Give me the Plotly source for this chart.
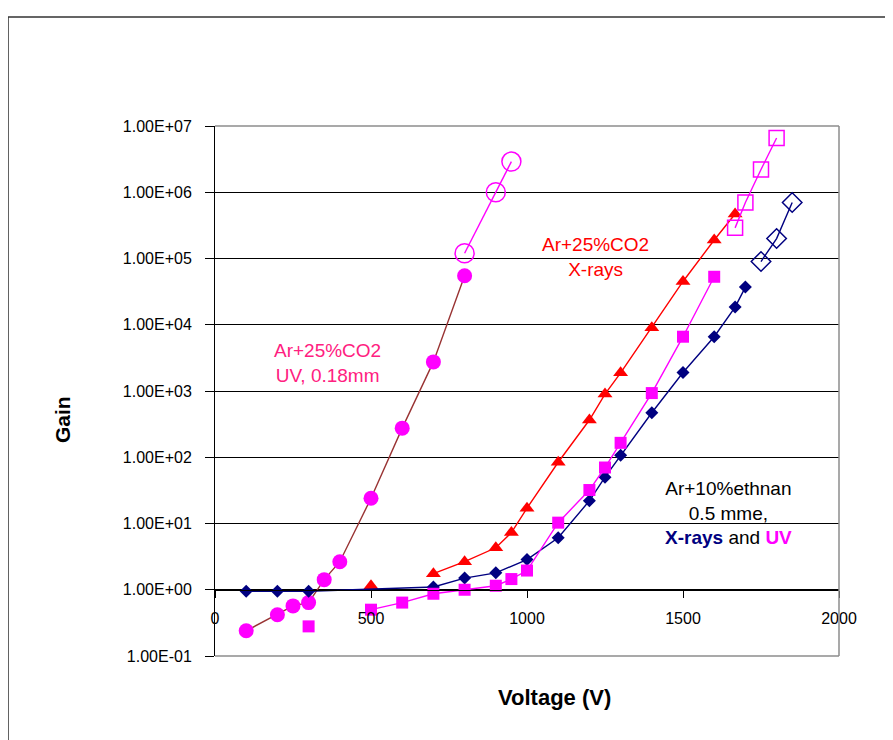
import plotly.graph_objects as go

# ---- data ----
xr_x = [100, 200, 300, 700, 800, 900, 1000, 1100, 1200, 1250, 1300, 1400, 1500, 1600, 1667, 1700]
xr_y = [0.95, 0.95, 0.95, 1.1, 1.5, 1.8, 2.85, 6.1, 22, 50, 107, 470, 1900, 6600, 18500, 37000]
xr_open_x = [1750, 1800, 1850]
xr_open_y = [9.0e4, 2.0e5, 7.0e5]

uv_x = [500, 600, 700, 800, 900, 950, 1000, 1100, 1200, 1250, 1300, 1400, 1500, 1600]
uv_y = [0.5, 0.64, 0.87, 1.0, 1.15, 1.45, 1.95, 10.3, 32, 70, 165, 930, 6600, 53000]
uv_iso_x = [300]
uv_iso_y = [0.28]
uv_open_x = [1667, 1700, 1750, 1800]
uv_open_y = [2.9e5, 7.0e5, 2.2e6, 6.6e6]

co2x_iso_x = [500]
co2x_iso_y = [1.15]
co2x_x = [700, 800, 900, 950, 1000, 1100, 1200, 1250, 1300, 1400, 1500, 1600, 1667]
co2x_y = [1.75, 2.65, 4.3, 7.3, 17, 84, 365, 900, 1880, 9000, 45000, 190000, 470000]

co2uv_x = [100, 200, 250, 300, 350, 400, 500, 600, 700, 800]
co2uv_y = [0.24, 0.42, 0.57, 0.64, 1.42, 2.65, 24, 275, 2750, 55000]
co2uv_open_x = [800, 900, 950]
co2uv_open_y = [1.2e5, 1.0e6, 2.9e6]

y_tickvals = [1e-1, 1e0, 1e1, 1e2, 1e3, 1e4, 1e5, 1e6, 1e7]
y_ticktext = ["1.00E-01", "1.00E+00", "1.00E+01", "1.00E+02", "1.00E+03",
              "1.00E+04", "1.00E+05", "1.00E+06", "1.00E+07"]
x_tickvals = [0, 500, 1000, 1500, 2000]

NAVY = "#000080"
MAG = "#FF00FF"
RED = "#FF0000"
BROWN = "#993333"
PINK = "#FF2080"

fig = go.Figure()

def add(x, y, mode, color, symbol, size, linecolor=None, mlw=1.5):
    fig.add_trace(go.Scatter(
        x=x, y=y, mode=mode,
        line=dict(color=linecolor or color, width=1.4),
        marker=dict(symbol=symbol, size=size, color=color,
                    line=dict(color=color, width=mlw)),
        showlegend=False, cliponaxis=False))

add(co2uv_x, co2uv_y, "lines+markers", MAG, "circle", 15, BROWN, 0)
add(co2uv_open_x, co2uv_open_y, "lines+markers", MAG, "circle-open", 19, MAG)
add(co2x_x, co2x_y, "lines+markers", RED, "triangle-up", 13, RED, 0)
add(co2x_iso_x, co2x_iso_y, "markers", RED, "triangle-up", 13, RED, 0)
add(xr_x, xr_y, "lines+markers", NAVY, "diamond", 10, NAVY, 0)
add(xr_open_x, xr_open_y, "lines+markers", NAVY, "diamond-open", 15, NAVY)
add(uv_x, uv_y, "lines+markers", MAG, "square", 12, MAG, 0)
add(uv_iso_x, uv_iso_y, "markers", MAG, "square", 12, MAG, 0)
add(uv_open_x, uv_open_y, "lines+markers", MAG, "square-open", 15, MAG)

FONT = "Liberation Sans, Arial, sans-serif"

# page body has an 8px margin, so margins are offset by 8px
fig.update_layout(
    width=893, height=740, autosize=False,
    margin=dict(l=207, r=62, t=118, b=92, pad=0),
    paper_bgcolor="white", plot_bgcolor="white",
    font=dict(family=FONT, color="black"),
    xaxis=dict(
        range=[0, 2000], tickvals=x_tickvals, ticks="outside", ticklen=7,
        tickcolor="black", showline=True, linecolor="black", linewidth=1,
        showgrid=False, zeroline=False, anchor="free", position=0.125,
        tickfont=dict(size=16, family=FONT, color="black"),
        ticklabelstandoff=7),
    yaxis=dict(
        type="log", range=[-1, 7], tickvals=y_tickvals, ticktext=y_ticktext,
        ticks="outside", ticklen=9, tickcolor="black", showline=True,
        linecolor="black", linewidth=1, showgrid=True, gridcolor="black",
        gridwidth=1, zeroline=False,
        tickfont=dict(size=16, family=FONT, color="black"),
        ticklabelstandoff=10),
)

# plot area border (top, right, bottom) in gray, and outer chart border
for x0, y0, x1, y1 in [(0, 1, 1, 1), (1, 0, 1, 1), (0, 0, 1, 0)]:
    fig.add_shape(type="line", xref="paper", yref="paper", x0=x0, y0=y0, x1=x1, y1=y1,
                  line=dict(color="#8c8c8c", width=1.5), layer="above")
fig.add_shape(type="rect", xref="paper", yref="paper", x0=-0.3317, y0=-1, x1=2, y1=1.2057,
              line=dict(color="#333333", width=1.5), layer="below")

def ann(text, xp, yp, color, size=19, angle=0):
    fig.add_annotation(text=text, xref="paper", yref="paper",
                       x=(xp - 215) / 624, y=(656 - yp) / 530,
                       showarrow=False, align="center", textangle=angle,
                       font=dict(size=size, color=color, family=FONT),
                       xanchor="center", yanchor="middle")

ann("Ar+25%CO2<br>UV, 0.18mm", 327, 363, PINK)
ann("Ar+25%CO2<br>X-rays", 595, 257, RED)
ann("Ar+10%ethnan<br>0.5 mme,<br><b><span style='color:#000080'>X-rays</span></b> and "
    "<b><span style='color:#FF00FF'>UV</span></b>", 728, 513, "black")
ann("<b>Voltage (V)</b>", 554, 697, "black", size=22)
ann("<b>Gain</b>", 62, 420, "black", size=21, angle=-90)

fig.write_html("out.html")
